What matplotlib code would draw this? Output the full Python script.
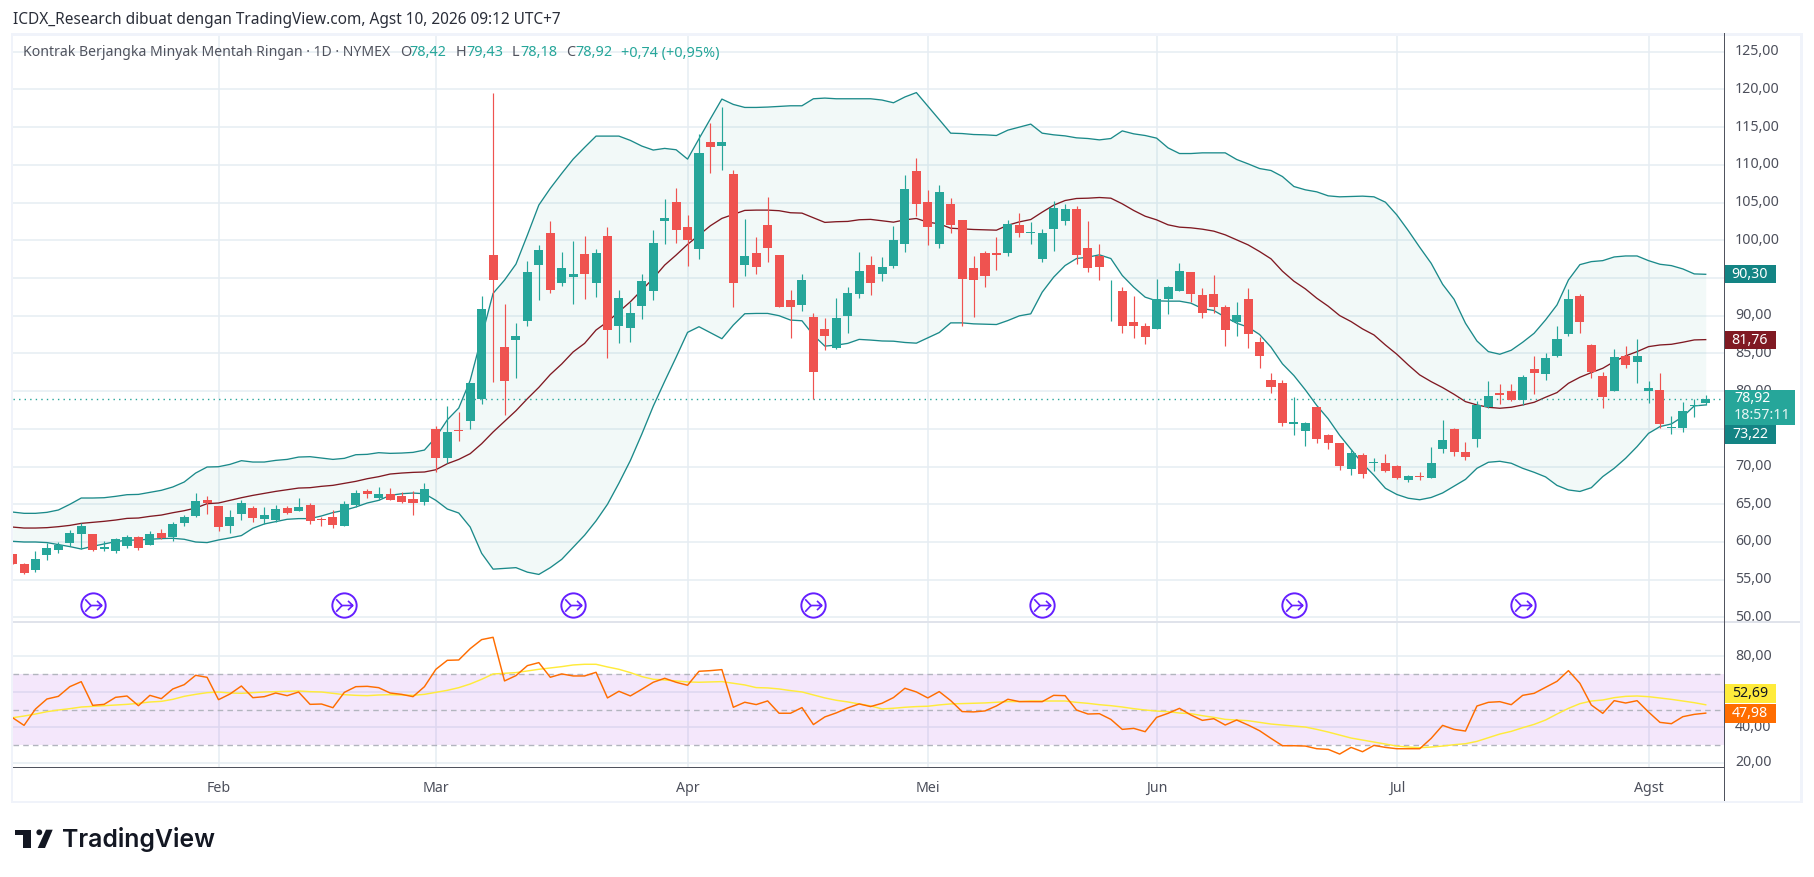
import numpy as np
import matplotlib
matplotlib.use("Agg")
import matplotlib.pyplot as plt
from matplotlib.patches import Rectangle, Polygon, Circle
from matplotlib.path import Path
from matplotlib.transforms import ScaledTranslation

opens = [58.42, 57.09, 56.3, 58.28, 58.95, 59.87, 61.07, 61.07, 59.08, 58.81, 59.48, 60.67, 59.6, 61.2, 60.67, 62.53, 63.45, 65.57, 64.78, 62.13,
         63.72, 64.51, 63.06, 62.92, 64.51, 64.12, 64.9, 63.1, 63.32, 62.13, 64.9, 66.77, 65.84, 66.37, 66.1, 65.7, 65.25, 74.93, 71.09, 74.8,
         75.99, 78.91, 98.04, 85.84, 86.77, 89.29, 96.71, 100.95, 94.33, 95.12, 98.17, 94.33, 100.56, 88.63, 88.36, 91.28, 93.27, 102.55, 105.06, 101.75,
         98.83, 113.02, 112.49, 108.78, 96.71, 98.3, 102.02, 98.04, 92.07, 91.41, 89.82, 88.23, 85.7, 89.95, 92.87, 96.71, 95.52, 96.58, 99.57, 109.12,
         105.14, 99.57, 104.87, 102.75, 96.26, 98.25, 98.25, 98.25, 102.09, 100.9, 97.58, 101.56, 102.49, 104.08, 98.91, 97.98, 93.74, 93.34, 89.1, 88.57,
         88.3, 92.28, 93.34, 95.73, 92.81, 92.94, 91.22, 89.23, 92.28, 86.58, 81.41, 81.14, 75.58, 74.78, 77.96, 74.12, 73.06, 69.74, 71.47, 70.41,
         70.48, 70.08, 68.23, 68.76, 68.49, 72.34, 74.99, 71.94, 73.66, 77.91, 79.76, 80.03, 78.83, 82.94, 82.28, 84.67, 87.58, 92.62, 86.12, 82.02,
         80.03, 84.67, 83.87, 80.03, 80.16, 75.12, 75.12, 78.04, 78.42]
highs = [58.42, 57.22, 58.81, 59.9, 59.96, 61.6, 62.48, 61.07, 60.14, 60.54, 60.93, 60.8, 61.46, 61.73, 62.66, 63.59, 66.5, 66.1, 64.78, 64.25,
         65.57, 64.78, 64.65, 64.9, 64.78, 65.84, 65.18, 63.3, 64.25, 65.44, 66.9, 67.03, 67.3, 67.17, 66.63, 66.77, 67.77, 75.33, 77.98, 77.19,
         81.03, 92.56, 119.51, 91.54, 89.02, 97.24, 99.36, 102.55, 98.44, 99.89, 100.56, 98.83, 101.75, 93.4, 91.81, 95.52, 101.35, 105.46, 106.92, 103.34,
         114.08, 115.54, 117.66, 109.3, 102.81, 100.42, 105.73, 98.04, 93.4, 95.52, 90.35, 89.69, 92.34, 93.8, 98.44, 97.9, 97.77, 101.88, 108.59, 110.97,
         106.6, 107.39, 105.54, 102.75, 97.98, 98.64, 100.37, 102.75, 103.68, 102.36, 101.56, 105.27, 104.87, 104.48, 102.62, 99.44, 94.67, 93.74, 92.55, 88.97,
         94.8, 94.0, 97.05, 95.86, 93.61, 95.46, 91.48, 91.88, 93.61, 87.24, 82.34, 81.54, 79.16, 75.97, 77.96, 74.38, 73.19, 72.39, 71.86, 71.07,
         71.67, 70.22, 68.9, 69.29, 72.6, 76.18, 75.12, 73.27, 78.7, 81.35, 80.95, 80.95, 82.15, 84.67, 85.06, 88.64, 93.55, 92.89, 86.26, 82.55,
         85.59, 85.99, 86.92, 81.35, 82.41, 76.71, 78.57, 78.97, 79.43]
lows = [57.09, 55.76, 56.07, 57.6, 58.55, 59.48, 59.12, 58.81, 58.81, 58.55, 59.2, 58.95, 59.6, 60.4, 60.14, 62.13, 63.32, 63.72, 61.46, 61.2,
        62.92, 62.66, 62.39, 62.66, 63.72, 64.12, 62.39, 62.13, 61.86, 62.13, 64.65, 65.84, 65.57, 65.57, 65.18, 63.59, 64.86, 69.23, 70.42, 73.34,
        74.93, 78.25, 81.16, 76.9, 81.8, 88.63, 92.07, 93.0, 93.93, 91.54, 92.2, 92.47, 84.38, 86.37, 86.5, 89.55, 92.07, 99.5, 99.63, 96.58,
        97.5, 108.9, 109.3, 91.14, 95.25, 95.52, 97.1, 91.14, 87.03, 90.61, 78.96, 85.44, 85.57, 87.7, 92.34, 92.73, 94.6, 96.31, 98.38, 103.28,
        99.31, 99.04, 101.03, 88.7, 89.89, 93.87, 96.12, 97.98, 100.5, 99.44, 97.18, 98.64, 102.09, 96.92, 95.73, 94.67, 89.36, 87.77, 87.11, 86.31,
        88.3, 90.16, 93.34, 91.88, 89.63, 90.42, 85.92, 87.37, 85.78, 83.13, 79.69, 75.44, 74.12, 72.79, 73.19, 72.39, 69.61, 68.82, 68.55, 69.35,
        69.3, 68.36, 67.9, 68.23, 68.49, 71.81, 71.41, 70.88, 72.6, 77.77, 78.3, 78.7, 78.17, 79.63, 81.48, 84.53, 87.32, 87.71, 81.75, 77.77,
        80.03, 83.08, 81.09, 78.44, 75.12, 74.33, 74.59, 76.58, 78.18]
closes = [57.09, 55.94, 57.75, 59.2, 59.65, 61.2, 62.13, 58.95, 59.34, 60.4, 60.67, 59.2, 61.07, 60.54, 62.39, 63.32, 65.44, 65.18, 62.0, 63.32,
          65.18, 63.19, 63.59, 64.38, 63.85, 64.65, 62.79, 62.95, 62.26, 65.04, 66.5, 66.37, 66.37, 65.57, 65.3, 65.18, 66.98, 71.09, 74.53, 74.67,
          81.03, 90.84, 94.72, 81.4, 87.3, 95.78, 98.7, 93.4, 96.31, 95.52, 95.52, 98.3, 88.1, 92.34, 90.35, 94.6, 99.63, 102.94, 101.35, 100.03,
          111.56, 112.36, 113.02, 94.33, 97.9, 96.45, 98.96, 91.14, 91.14, 94.72, 82.6, 87.3, 89.69, 93.0, 95.92, 94.33, 96.45, 100.03, 106.86, 104.87,
          101.82, 106.46, 102.09, 94.93, 94.67, 95.33, 98.11, 102.22, 100.9, 101.16, 101.03, 104.34, 104.21, 98.11, 96.26, 96.52, 93.87, 88.57, 88.7, 87.24,
          92.15, 93.74, 95.99, 92.94, 90.42, 91.22, 88.04, 90.03, 87.51, 84.72, 80.61, 75.84, 75.97, 75.84, 73.72, 73.06, 70.14, 71.86, 69.08, 70.67,
          69.42, 68.49, 68.76, 68.63, 70.48, 73.53, 71.94, 71.28, 78.17, 79.36, 79.5, 78.83, 81.88, 82.41, 84.4, 86.92, 92.22, 89.17, 82.55, 79.23,
          84.53, 83.47, 84.67, 80.42, 75.65, 75.25, 77.37, 78.17, 78.92]

bb_upper = [63.97, 63.8, 63.8, 63.93, 64.24, 64.99, 65.83, 65.83, 65.87, 66.05, 66.27, 66.31, 66.58, 66.85, 67.29, 67.95, 69.14, 69.94, 69.98, 70.29,
            70.78, 70.6, 70.6, 70.82, 70.95, 71.26, 71.31, 71.13, 70.95, 71.09, 71.57, 71.62, 71.84, 71.75, 71.79, 71.88, 72.19, 73.9, 76.2, 77.76,
            81.43, 87.2, 92.96, 94.72, 96.84, 100.69, 104.67, 106.88, 108.86, 110.76, 112.31, 113.81, 113.81, 113.81, 113.24, 112.49, 111.96, 112.18, 112.0, 110.76,
            113.46, 116.11, 118.72, 118.01, 117.61, 117.61, 117.66, 117.75, 117.83, 117.83, 118.76, 118.85, 118.76, 118.76, 118.76, 118.76, 118.59, 118.23, 119.0, 119.58,
            117.8, 116.0, 114.2, 114.15, 114.02, 113.98, 113.89, 114.6, 115.0, 115.4, 114.2, 113.98, 113.84, 113.58, 113.49, 113.31, 113.49, 114.5, 114.11, 113.89,
            113.54, 112.25, 111.5, 111.5, 111.59, 111.59, 111.59, 110.71, 110.13, 109.51, 109.25, 108.45, 107.13, 106.69, 106.42, 105.89, 105.76, 105.8, 105.85, 105.76,
            105.05, 103.36, 101.28, 99.07, 96.95, 94.17, 92.18, 89.0, 86.65, 85.24, 84.89, 85.42, 86.48, 87.67, 89.44, 91.43, 94.74, 96.77, 97.17, 97.3,
            97.79, 97.92, 97.92, 97.3, 96.82, 96.64, 96.2, 95.54, 95.49]
bb_basis = [61.98, 61.85, 61.85, 61.9, 62.03, 62.2, 62.47, 62.6, 62.74, 62.91, 63.13, 63.18, 63.4, 63.57, 63.88, 64.15, 64.5, 65.08, 65.17, 65.52,
            65.87, 66.18, 66.45, 66.71, 66.93, 67.15, 67.2, 67.38, 67.51, 67.77, 68.04, 68.39, 68.66, 69.01, 69.14, 69.23, 69.28, 69.58, 70.38, 70.95,
            71.71, 73.03, 74.58, 76.0, 77.4, 79.0, 80.5, 82.2, 83.6, 85.2, 86.33, 88.1, 89.2, 90.53, 91.85, 93.4, 94.95, 96.71, 98.04, 99.45,
            100.69, 101.93, 102.9, 103.43, 103.96, 104.0, 104.0, 103.92, 103.65, 103.6, 102.99, 102.37, 102.46, 102.5, 102.72, 102.77, 102.58, 102.4, 102.71, 102.89,
            102.4, 102.18, 101.6, 101.52, 101.43, 101.38, 101.34, 102.0, 102.44, 102.75, 103.73, 104.65, 105.27, 105.54, 105.58, 105.67, 105.58, 104.83, 103.95, 103.19,
            102.71, 102.05, 101.74, 101.65, 101.47, 101.21, 100.72, 100.06, 99.39, 98.51, 97.54, 95.9, 94.58, 93.56, 92.32, 91.26, 90.02, 89.22, 88.25, 87.45,
            86.12, 84.89, 83.47, 82.15, 81.26, 80.47, 79.58, 78.61, 78.17, 77.86, 77.73, 77.86, 78.17, 78.52, 79.19, 79.81, 81.04, 81.84, 82.46, 83.03,
            83.92, 84.67, 85.24, 85.9, 86.12, 86.21, 86.48, 86.79, 86.83]
bb_lower = [60.09, 60.0, 60.0, 59.92, 59.65, 59.39, 59.07, 59.43, 59.74, 60.05, 60.23, 60.27, 60.36, 60.45, 60.49, 60.36, 60.0, 59.92, 60.27, 60.54,
            60.85, 61.82, 62.39, 62.7, 63.01, 63.1, 63.1, 63.45, 63.9, 64.2, 64.64, 65.17, 65.52, 66.18, 66.4, 66.49, 66.4, 65.52, 64.37, 63.84,
            61.98, 58.5, 56.4, 56.5, 56.6, 56.0, 55.7, 56.6, 57.7, 59.3, 60.9, 62.8, 65.0, 67.8, 70.8, 74.3, 78.0, 81.3, 84.5, 87.79,
            88.54, 87.74, 86.95, 88.76, 90.26, 90.3, 90.3, 90.0, 89.42, 89.33, 87.43, 85.97, 86.1, 86.33, 86.86, 86.77, 86.65, 86.62, 86.45, 86.36,
            87.07, 87.77, 89.05, 89.05, 88.92, 88.88, 88.83, 89.36, 89.98, 90.25, 93.12, 95.11, 96.65, 97.58, 97.76, 98.07, 97.58, 95.33, 93.78, 92.46,
            91.97, 91.93, 91.93, 91.66, 90.95, 90.69, 89.81, 89.01, 88.48, 87.51, 85.83, 83.62, 82.07, 80.17, 78.1, 76.33, 74.15, 72.28, 70.4, 68.85,
            67.12, 66.3, 65.8, 65.6, 65.9, 66.5, 67.4, 68.3, 69.77, 70.57, 70.7, 70.44, 69.77, 69.24, 68.63, 67.5, 66.9, 66.7, 67.2, 68.67,
            69.77, 71.1, 72.65, 74.4, 75.3, 75.65, 76.62, 78.04, 78.17]

rsi = [45.41, 41.09, 50.3, 55.94, 57.44, 62.89, 65.71, 52.37, 52.93, 56.88, 57.63, 52.18, 58.0, 56.13, 61.58, 64.02, 69.29, 68.16, 55.56, 58.76,
       63.27, 56.69, 57.26, 59.32, 57.82, 59.89, 52.93, 53.12, 51.05, 59.7, 62.89, 63.08, 62.33, 59.32, 58.57, 57.26, 62.89, 72.67, 77.74, 77.93,
       84.32, 89.4, 90.71, 66.12, 69.12, 74.75, 76.44, 68.18, 70.06, 68.93, 68.93, 70.99, 56.55, 60.3, 57.67, 61.43, 65.37, 67.62, 65.37, 63.68,
       71.56, 71.93, 72.5, 51.29, 54.11, 52.8, 54.86, 47.92, 47.92, 51.11, 41.54, 45.85, 48.11, 50.92, 53.17, 51.67, 53.55, 56.74, 61.99, 59.92,
       56.55, 60.11, 55.05, 48.86, 48.67, 49.23, 52.04, 55.8, 54.48, 54.44, 54.44, 58.0, 57.82, 49.74, 47.48, 47.67, 44.47, 38.83, 39.4, 37.52,
       45.6, 47.86, 50.68, 46.92, 43.91, 44.85, 41.28, 44.1, 41.28, 38.08, 33.76, 29.62, 29.62, 29.44, 27.93, 27.56, 24.92, 28.68, 26.24, 29.81,
       28.68, 27.93, 27.93, 27.93, 33.76, 41.09, 38.83, 37.89, 51.99, 54.06, 54.44, 52.74, 58.0, 59.14, 62.52, 65.9, 71.92, 64.77, 52.56, 47.86,
       55.0, 53.68, 55.0, 48.61, 42.78, 42.03, 45.98, 47.29, 47.98]
rsi_ma = [45.41, 46.35, 47.48, 48.8, 49.74, 50.49, 51.43, 51.8, 52.18, 52.56, 52.93, 53.5, 54.25, 54.62, 55.75, 57.44, 58.57, 59.51, 59.89, 59.32,
          59.14, 59.51, 59.89, 60.08, 60.26, 60.45, 60.08, 59.89, 59.14, 58.38, 58.01, 57.82, 58.2, 58.38, 58.2, 58.01, 58.57, 59.7, 60.83, 62.33,
          64.4, 67.03, 70.04, 70.43, 70.81, 71.74, 72.68, 73.43, 74.18, 75.12, 75.5, 75.5, 74.0, 72.68, 70.81, 68.56, 67.05, 66.68, 66.12, 65.55,
          65.37, 65.55, 65.74, 64.8, 63.86, 62.36, 62.18, 61.61, 60.68, 59.92, 58.24, 56.55, 55.23, 54.3, 53.17, 52.04, 50.36, 50.73, 51.29, 51.67,
          51.86, 52.61, 53.17, 53.36, 53.55, 53.73, 54.11, 54.48, 54.5, 54.81, 54.81, 54.81, 54.81, 54.06, 53.5, 52.74, 52.18, 51.43, 50.49, 49.74,
          49.17, 48.8, 48.05, 47.67, 46.54, 45.6, 44.47, 44.1, 43.72, 42.78, 41.84, 41.28, 40.71, 40.15, 38.83, 37.33, 35.64, 33.95, 32.82, 31.69,
          30.56, 29.44, 28.87, 28.5, 28.87, 29.44, 30.19, 30.75, 32.07, 34.14, 36.2, 37.71, 39.77, 41.65, 44.1, 47.48, 50.68, 53.31, 54.81, 55.38,
          56.69, 57.44, 57.63, 57.26, 56.5, 55.75, 54.81, 53.87, 52.69]

month_idx = [18, 37, 59, 80, 100, 121, 143]
month_labels = ["Feb", "Mar", "Apr", "Mei", "Jun", "Jul", "Agst"]
event_idx = [7, 29, 49, 70, 90, 112, 132]
event_price = 51.65
# 95, 75 and RSI 60 sit fully behind the value boxes, so they get no text
price_ticks = [50, 55, 60, 65, 70, 75, 80, 85, 90, 95, 100, 105, 110, 115, 120, 125]
price_labels = ["50,00", "55,00", "60,00", "65,00", "70,00", "", "80,00", "85,00", "90,00", "", "100,00", "105,00", "110,00", "115,00", "120,00", "125,00"]
rsi_ticks = [20, 40, 60, 80]
rsi_labels = ["20,00", "40,00", "", "80,00"]
last_close = 78.92

W, H = 1814, 877
GREEN = "#26a69a"
RED = "#ef5350"
BAND = "#1b8a8a"
BASIS = "#801922"
GRID = "#e6edf3"
TEXT = "#4c4f5b"
AXIS = "#50535e"
FRAME = "#f0f3fa"
PURPLE = "#651fff"
FONT = ["Noto Sans", "DejaVu Sans"]

plt.rcParams["font.family"] = FONT


def px(x, y):
    return x / W, 1 - y / H


def add_ax(top, bottom):
    ax = fig.add_axes([13 / W, 1 - bottom / H, (1724 - 13) / W, (bottom - top) / H])
    ax.set_xlim((13 - 12.6) / 11.44, (1724 - 12.6) / 11.44)
    ax.set_axisbelow(True)
    ax.set_xticks(month_idx)
    ax.grid(True, color=GRID, linewidth=1.1)
    ax.yaxis.tick_right()
    for s in ["left", "top", "bottom", "right"]:
        ax.spines[s].set_visible(False)
    ax.tick_params(length=0)
    return ax


def lift_labels(ax):
    # tick text sits about 2px low with this font
    for t in ax.get_yticklabels():
        t.set_transform(t.get_transform() + ScaledTranslation(0, 2 / 100, fig.dpi_scale_trans))


def label_box(y0, y1, color, x1=1776):
    fig.add_artist(Rectangle(px(1724.5, y1), (x1 - 1724.5) / W, (y1 - y0) / H,
                             transform=fig.transFigure, facecolor=color, edgecolor="none", zorder=5))


def ptext(x, y, s, color=TEXT, size=10.2, ha="left", **kw):
    fig.text(x / W, 1 - y / H, s, color=color, fontsize=size, ha=ha, va="center", zorder=6, **kw)


fig = plt.figure(figsize=(W / 100, H / 100), dpi=100, facecolor="white")

x = np.arange(len(closes))
ax = add_ax(33.3, 622.3)
ax.set_ylim(125 - (622.3 - 51.7) / 7.543, 125 + (51.7 - 33.3) / 7.543)
ax.set_yticks(price_ticks)
ax.set_yticklabels(price_labels, color=TEXT, fontsize=10.2)
ax.tick_params(axis="y", pad=8)
lift_labels(ax)
ax.set_xticklabels([])

ax.fill_between(x, bb_lower, bb_upper, color="#089981", alpha=0.05, linewidth=0, zorder=1)
ax.plot(x, bb_upper, color=BAND, linewidth=0.95, zorder=2)
ax.plot(x, bb_lower, color=BAND, linewidth=0.95, zorder=2)
ax.plot(x, bb_basis, color=BASIS, linewidth=0.95, zorder=2)
ax.axhline(last_close, color=GREEN, linewidth=1, linestyle=(0, (1, 3)), zorder=2)

o = np.array(opens)
h = np.array(highs)
l = np.array(lows)
c = np.array(closes)
col = [GREEN if b >= a else RED for a, b in zip(o, c)]
ax.vlines(x, l, h, colors=col, linewidth=0.85, zorder=3)
ax.bar(x, np.maximum(np.abs(c - o), 0.12), bottom=np.minimum(o, c), width=0.79, color=col, linewidth=0, zorder=4)

ax.plot(event_idx, [event_price] * len(event_idx), "o", ms=17.5, mfc="white", mec=PURPLE, mew=1.4, zorder=5)
glyph = Path([(-1, .75), (-.3, 0), (1, 0), (.42, .55), (1, 0), (.42, -.55), (-1, -.75), (-.3, 0)],
             [Path.MOVETO, Path.LINETO, Path.LINETO, Path.MOVETO, Path.LINETO, Path.LINETO, Path.MOVETO, Path.LINETO])
ax.plot(event_idx, [event_price] * len(event_idx), linestyle="none", marker=glyph, ms=12, mfc="none", mec=PURPLE, mew=1.2, zorder=6)

ax2 = add_ax(622.3, 767.3)
ax2.set_ylim(80 - 111 / 1.775, 80 + 34 / 1.775)
ax2.set_yticks(rsi_ticks)
ax2.set_yticklabels(rsi_labels, color=TEXT, fontsize=10.2)
ax2.tick_params(axis="y", pad=8)
lift_labels(ax2)
ax2.set_xticklabels(month_labels, color=TEXT, fontsize=10.2)
ax2.tick_params(axis="x", pad=10)
ax2.axhspan(30, 70, color="#9c27e0", alpha=0.11, linewidth=0, zorder=1)
for v in [30, 50, 70]:
    ax2.axhline(v, color="#b2b5be", linewidth=1, linestyle=(0, (4, 3)), zorder=2)
ax2.plot(x, rsi_ma, color="#ffeb3b", linewidth=1.05, zorder=3)
ax2.plot(x, rsi, color="#ff6d00", linewidth=1.05, zorder=4)

# frame and axis lines
for xy, w, hh in [((10.5, 33), 2.5, 768), ((10.5, 33), 1791, 2.5), ((10.5, 800.5), 1791, 2.5), ((1800, 33), 2.5, 770)]:
    fig.add_artist(Rectangle((xy[0] / W, 1 - (xy[1] + hh) / H), w / W, hh / H, transform=fig.transFigure,
                             facecolor=FRAME, edgecolor="none", zorder=1))
fig.add_artist(Rectangle((13 / W, 1 - 623.3 / H), 1787 / W, 2 / H, transform=fig.transFigure,
                         facecolor="#e0e3eb", edgecolor="none", zorder=1))
fig.add_artist(Rectangle((13 / W, 1 - 768 / H), 1711 / W, 1.2 / H, transform=fig.transFigure,
                         facecolor=AXIS, edgecolor="none", zorder=3))
fig.add_artist(Rectangle((1723.6 / W, 1 - 801 / H), 1.2 / W, 768 / H, transform=fig.transFigure,
                         facecolor=AXIS, edgecolor="none", zorder=3))

# price labels
label_box(265, 283.3, "#138484")
ptext(1750, 274.3, "90,30", color="white", ha="center")
label_box(331, 349.3, BASIS)
ptext(1750, 340.3, "81,76", color="white", ha="center")
label_box(425.3, 443.7, "#138484")
ptext(1750, 434.7, "73,22", color="white", ha="center")
label_box(390, 424.7, GREEN, x1=1795)
ptext(1734, 398.5, "78,92", color="white")
ptext(1734, 415.5, "18:57:11", color="#e8f6f5")
label_box(684, 702.7, "#ffeb3b")
ptext(1750, 693.5, "52,69", color="#131722", ha="center")
label_box(704, 722.7, "#ff6d00")
ptext(1750, 713.5, "47,98", color="white", ha="center")

# header and legend
ptext(13, 20, "ICDX_Research dibuat dengan TradingView.com, Agst 10, 2026 09:12 UTC+7", color="#2a2e39", size=11.1)
ptext(23, 53, "Kontrak Berjangka Minyak Mentah Ringan · 1D · NYMEX", color=AXIS, size=10.1)
for xp, s, cl in [(400, "O", AXIS), (409.5, "78,42", GREEN), (456, "H", AXIS), (466, "79,43", GREEN),
                  (512, "L", AXIS), (520.5, "78,18", GREEN), (566, "C", AXIS), (575, "78,92", GREEN),
                  (621, "+0,74 (+0,95%)", GREEN)]:
    ptext(xp, 53, s, color=cl, size=10.4)

# logo
black = "#131722"
fig.add_artist(Polygon([px(15.3, 829.7), px(31, 829.7), px(31, 848), px(23.3, 848), px(23.3, 835), px(15.3, 835)],
                       transform=fig.transFigure, facecolor=black, edgecolor="none"))
fig.add_artist(Polygon([px(37.7, 848), px(46, 829.7), px(52.7, 829.7), px(45, 848)],
                       transform=fig.transFigure, facecolor=black, edgecolor="none"))
ax_dot = fig.add_axes([0, 0, 1, 1], facecolor="none")
ax_dot.set_xlim(0, W)
ax_dot.set_ylim(H, 0)
ax_dot.axis("off")
ax_dot.add_patch(Circle((39.3, 832.3), 2.9, facecolor=black, edgecolor="none"))
ptext(62, 840, "TradingView", color=black, size=17.9, family=["Inter", "DejaVu Sans"], fontweight="semibold")

fig.savefig("out.png", dpi=100, facecolor="white")
